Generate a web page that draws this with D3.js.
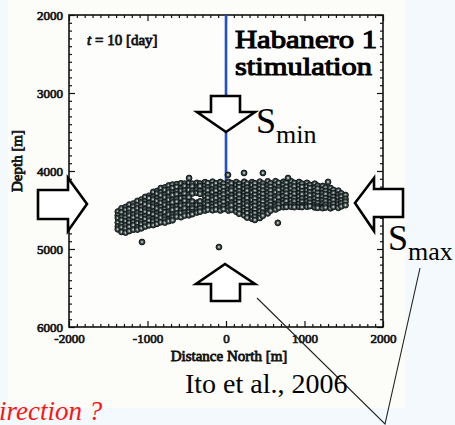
<!DOCTYPE html>
<html>
<head>
<meta charset="utf-8">
<script src="https://cdn.jsdelivr.net/npm/d3@7"></script>
<style>
  html, body { margin: 0; padding: 0; background: #f3f9fc; }
  svg { display: block; }
</style>
</head>
<body>
<svg id="chart" width="455" height="425"></svg>
<script>
// ---- Data -------------------------------------------------------------
// Microseismic hypocentres after 10 days of stimulation, grouped in
// columns by distance north (m); each column lists event depths (m).
const columnNorth = [
  -1378, -1331, -1279, -1232, -1181, -1128, -1079, -1030, -981, -926,
  -879, -831, -779, -730, -681, -628, -574, -527, -473, -429,
  -371, -331, -268, -232, -171, -128, -72, -31, 31, 69,
  131, 168, 232, 269, 331, 368, 431, 469, 532, 568,
  631, 671, 732, 769, 831, 871, 931, 968, 1031, 1069,
  1131, 1168, 1231, 1269, 1331, 1368, 1431, 1469, 1522
];
const columnDepths = [
  [4520, 4568, 4603, 4661, 4712, 4748],
  [4478, 4529, 4590, 4627, 4684, 4722, 4781],
  [4462, 4497, 4556, 4598, 4641, 4699, 4738, 4790],
  [4431, 4488, 4536, 4571, 4629, 4664, 4717, 4769],
  [4418, 4455, 4503, 4560, 4597, 4655, 4694, 4752],
  [4384, 4440, 4479, 4536, 4573, 4631, 4668, 4723, 4751],
  [4366, 4402, 4461, 4498, 4556, 4593, 4650, 4684, 4735],
  [4333, 4391, 4425, 4487, 4521, 4581, 4615, 4673, 4712],
  [4318, 4349, 4410, 4444, 4507, 4538, 4601, 4636, 4696],
  [4268, 4331, 4364, 4426, 4459, 4521, 4553, 4616, 4649, 4693],
  [4257, 4289, 4351, 4384, 4446, 4478, 4541, 4574, 4636, 4677],
  [4219, 4277, 4313, 4372, 4408, 4467, 4503, 4562, 4598, 4657],
  [4211, 4243, 4306, 4339, 4398, 4433, 4492, 4528, 4588, 4623, 4661],
  [4186, 4241, 4274, 4336, 4369, 4431, 4463, 4526, 4558, 4617, 4643],
  [4174, 4218, 4277, 4309, 4371, 4403, 4466, 4498, 4561, 4594, 4632],
  [4169, 4204, 4262, 4298, 4357, 4393, 4452, 4489, 4546, 4584],
  [4158, 4221, 4253, 4317, 4348, 4412, 4443, 4507, 4538, 4592],
  [4162, 4193, 4251, 4289, 4346, 4383, 4441, 4479, 4536, 4571],
  [4151, 4209, 4243, 4306, 4338, 4401, 4433, 4496, 4526, 4568],
  [4163, 4198, 4256, 4288, 4391, 4447, 4481, 4527, 4553],
  [4152, 4212, 4241, 4279, 4407, 4438, 4496, 4532],
  [4161, 4194, 4257, 4292, 4389, 4446, 4479, 4521],
  [4143, 4191, 4229, 4286, 4323, 4381, 4418, 4476, 4507],
  [4156, 4212, 4248, 4306, 4343, 4401, 4438, 4494],
  [4137, 4181, 4237, 4274, 4331, 4368, 4426, 4463, 4503],
  [4158, 4216, 4251, 4311, 4346, 4406, 4441, 4492],
  [4141, 4189, 4228, 4286, 4324, 4381, 4419, 4474, 4506],
  [4163, 4206, 4259, 4301, 4354, 4396, 4449, 4488],
  [4139, 4183, 4241, 4278, 4336, 4373, 4431, 4468, 4507],
  [4157, 4217, 4251, 4312, 4346, 4407, 4441, 4497],
  [4142, 4181, 4232, 4284, 4327, 4379, 4422, 4474, 4521],
  [4164, 4207, 4261, 4302, 4356, 4397, 4451, 4492, 4547],
  [4138, 4188, 4229, 4283, 4324, 4378, 4419, 4473, 4516, 4568],
  [4161, 4214, 4252, 4309, 4347, 4404, 4442, 4499, 4541, 4597],
  [4143, 4179, 4238, 4274, 4333, 4369, 4428, 4464, 4523, 4559, 4612],
  [4158, 4211, 4256, 4306, 4351, 4401, 4446, 4496, 4541, 4588, 4627],
  [4137, 4186, 4233, 4281, 4328, 4376, 4423, 4471, 4518, 4566, 4602],
  [4162, 4201, 4251, 4296, 4346, 4391, 4441, 4482, 4536, 4573],
  [4133, 4183, 4226, 4278, 4321, 4373, 4416, 4468, 4511, 4543],
  [4158, 4204, 4249, 4299, 4344, 4394, 4439, 4484, 4508],
  [4131, 4177, 4234, 4272, 4329, 4367, 4424, 4457, 4493],
  [4153, 4209, 4242, 4303, 4337, 4398, 4432, 4472],
  [4138, 4176, 4227, 4279, 4322, 4374, 4412, 4463],
  [4148, 4204, 4249, 4291, 4344, 4386, 4439, 4461],
  [4132, 4183, 4226, 4278, 4321, 4373, 4418, 4458],
  [4153, 4198, 4251, 4293, 4346, 4388, 4437, 4463],
  [4141, 4187, 4232, 4282, 4327, 4377, 4422, 4459],
  [4163, 4204, 4258, 4299, 4353, 4394, 4441, 4462],
  [4152, 4198, 4249, 4293, 4344, 4388, 4432, 4457],
  [4178, 4218, 4273, 4313, 4368, 4407, 4451],
  [4163, 4212, 4258, 4307, 4352, 4397, 4438, 4467],
  [4189, 4227, 4281, 4322, 4374, 4414, 4453, 4472],
  [4192, 4238, 4284, 4327, 4373, 4417, 4457, 4476],
  [4213, 4257, 4297, 4348, 4388, 4433, 4468],
  [4218, 4268, 4308, 4358, 4398, 4441, 4478],
  [4243, 4283, 4333, 4372, 4422, 4461],
  [4252, 4303, 4341, 4392, 4428, 4472],
  [4287, 4327, 4377, 4414, 4453],
  [4308, 4357, 4392, 4438]
];
// Isolated events away from the main cloud
const outlierNorth = [-470, 25, 230, 470, 790, 1300, 660, -1070, -90];
const outlierDepth = [4090, 4050, 4025, 4025, 4090, 4140, 4665, 4910, 4975];

// Injection well trace (north, bottom depth)
const wellNorth = 0;
const wellBottomDepth = 4150;

// Axis ticks
const northTicks = [-2000, -1000, 0, 1000, 2000];
const depthTicks = [2000, 3000, 4000, 5000, 6000];
const minorStep = 100;

// ---- Scales -----------------------------------------------------------
const svg = d3.select("#chart");
const x = d3.scaleLinear().domain([-2000, 2000]).range([69, 383]);
const y = d3.scaleLinear().domain([2000, 6000]).range([15, 327]);
const serif = "Liberation Serif";

// heavy serif text: regular face thickened with an outline of the same colour
function heavy(sel, w) {
  return sel.attr("font-family", serif).attr("fill", "#111")
    .attr("stroke", "#111").attr("stroke-width", w).attr("paint-order", "stroke");
}

// Pasted-figure panel background
svg.append("rect").attr("x", 8).attr("y", 0).attr("width", 397).attr("height", 408)
  .attr("fill", "#fcfcf9");

// Plot area
svg.append("rect")
  .attr("x", x(-2000)).attr("y", y(2000))
  .attr("width", x(2000) - x(-2000)).attr("height", y(6000) - y(2000))
  .attr("fill", "#fdfdfb");

// ---- Axes ---------------------------------------------------------------
const minorNorth = d3.range(-2000, 2001, minorStep).filter(v => v % 1000 !== 0);
const minorDepth = d3.range(2000, 6001, minorStep).filter(v => v % 1000 !== 0);
const fmt = d => String(d);

function styleAxis(g) {
  g.select(".domain").remove();
  g.selectAll(".tick line").attr("stroke", "#111").attr("stroke-width", 1.2);
  g.selectAll("text").call(heavy, 0.7).attr("font-size", 13);
}

// bottom
svg.append("g").attr("transform", `translate(0,${y(6000)})`)
  .call(d3.axisBottom(x).tickValues(northTicks).tickFormat(fmt)
    .tickSizeInner(-6).tickSizeOuter(0).tickPadding(7))
  .call(styleAxis);
svg.append("g").attr("transform", `translate(0,${y(6000)})`)
  .call(d3.axisBottom(x).tickValues(minorNorth).tickFormat("").tickSize(-3))
  .call(styleAxis);
// top
svg.append("g").attr("transform", `translate(0,${y(2000)})`)
  .call(d3.axisTop(x).tickValues(northTicks).tickFormat("").tickSizeInner(-6).tickSizeOuter(0))
  .call(styleAxis);
svg.append("g").attr("transform", `translate(0,${y(2000)})`)
  .call(d3.axisTop(x).tickValues(minorNorth).tickFormat("").tickSize(-3))
  .call(styleAxis);
// left
svg.append("g").attr("transform", `translate(${x(-2000)},0)`)
  .call(d3.axisLeft(y).tickValues(depthTicks).tickFormat(fmt)
    .tickSizeInner(-6).tickSizeOuter(0).tickPadding(6))
  .call(styleAxis);
svg.append("g").attr("transform", `translate(${x(-2000)},0)`)
  .call(d3.axisLeft(y).tickValues(minorDepth).tickFormat("").tickSize(-3))
  .call(styleAxis);
// right
svg.append("g").attr("transform", `translate(${x(2000)},0)`)
  .call(d3.axisRight(y).tickValues(depthTicks).tickFormat("").tickSizeInner(-6).tickSizeOuter(0))
  .call(styleAxis);
svg.append("g").attr("transform", `translate(${x(2000)},0)`)
  .call(d3.axisRight(y).tickValues(minorDepth).tickFormat("").tickSize(-3))
  .call(styleAxis);

// frame
svg.append("rect")
  .attr("x", x(-2000)).attr("y", y(2000))
  .attr("width", x(2000) - x(-2000)).attr("height", y(6000) - y(2000))
  .attr("fill", "none").attr("stroke", "#111").attr("stroke-width", 1.6);

// axis titles
svg.append("text").attr("x", 229).attr("y", 361).attr("text-anchor", "middle")
  .call(heavy, 0.8).attr("font-size", 15).text("Distance North [m]");
svg.append("text").attr("transform", "translate(22,161) rotate(-90)")
  .attr("text-anchor", "middle")
  .call(heavy, 0.8).attr("font-size", 15).text("Depth [m]");

// time stamp
const tLabel = svg.append("text").attr("x", 87).attr("y", 45)
  .call(heavy, 0.8).attr("font-size", 15);
tLabel.append("tspan").attr("font-style", "italic").text("t");
tLabel.append("tspan").text(" = 10 [day]");

// ---- Well trace ---------------------------------------------------------
svg.append("line")
  .attr("x1", x(wellNorth)).attr("x2", x(wellNorth))
  .attr("y1", y(2000)).attr("y2", y(wellBottomDepth))
  .attr("stroke", "#1f4fd0").attr("stroke-width", 2.6);

// ---- Events ----------------------------------------------------------------
const events = [];
columnNorth.forEach((n, i) => columnDepths[i].forEach(d => events.push([n, d])));
outlierNorth.forEach((n, i) => events.push([n, outlierDepth[i]]));

// each event: dark shaded ball with a pale centre
const ev = svg.append("g").selectAll("g").data(events).join("g")
  .attr("transform", d => `translate(${x(d[0])},${y(d[1])})`);
ev.append("circle").attr("r", 2.9)
  .attr("fill", "#404c4c").attr("stroke", "#0d1414").attr("stroke-width", 1);
ev.append("circle").attr("r", 1.1).attr("fill", "#b9c6c6");

// ---- Stress arrows --------------------------------------------------------
const arrowStyle = sel => sel.attr("fill", "#fff").attr("stroke", "#000")
  .attr("stroke-width", 2.6).attr("stroke-linejoin", "miter");
// vertical arrow pointing down (S_min, from above)
svg.append("polygon").call(arrowStyle)
  .attr("points", "211,96 240,96 240,112 255,112 226,132 197,112 211,112");
// vertical arrow pointing up (S_min, from below)
svg.append("polygon").call(arrowStyle)
  .attr("points", "211,301 240,301 240,284 255,284 225,264 196,284 211,284");
// horizontal arrow pointing right (S_max, from the left)
svg.append("polygon").call(arrowStyle)
  .attr("points", "38,190 68,190 68,178 87,204 68,231 68,219 38,219");
// horizontal arrow pointing left (S_max, from the right)
svg.append("polygon").call(arrowStyle)
  .attr("points", "403,189 374,189 374,178 355,203 374,231 374,217 403,217");

// stress labels
function stressLabel(xp, yp, sub) {
  const t = svg.append("text").attr("x", xp).attr("y", yp)
    .attr("font-family", serif).attr("fill", "#000");
  t.append("tspan").attr("font-size", 36).text("S");
  t.append("tspan").attr("font-size", 26).attr("dy", 10).text(sub);
}
stressLabel(256, 133, "min");
stressLabel(388, 250, "max");

// title, two lines
const title = svg.append("text").attr("x", 235).attr("y", 48)
  .call(heavy, 1.1).attr("fill", "#000").attr("stroke", "#000").attr("font-size", 26);
title.append("tspan").attr("x", 235)
  .attr("textLength", 142).attr("lengthAdjust", "spacingAndGlyphs").text("Habanero 1");
title.append("tspan").attr("x", 235).attr("dy", 27)
  .attr("textLength", 137).attr("lengthAdjust", "spacingAndGlyphs").text("stimulation");

// citation and pointer lines
svg.append("polyline").attr("points", "257,298 385,424 420,268")
  .attr("fill", "none").attr("stroke", "#222").attr("stroke-width", 1.1);
svg.append("text").attr("x", 185).attr("y", 393)
  .attr("font-family", serif).attr("font-size", 28).attr("fill", "#000")
  .text("Ito et al., 2006");

svg.append("text").attr("x", -1).attr("y", 420)
  .attr("font-family", serif).attr("font-style", "italic").attr("font-size", 27)
  .attr("fill", "#ff1414").text("irection ?");
</script>
</body>
</html>
